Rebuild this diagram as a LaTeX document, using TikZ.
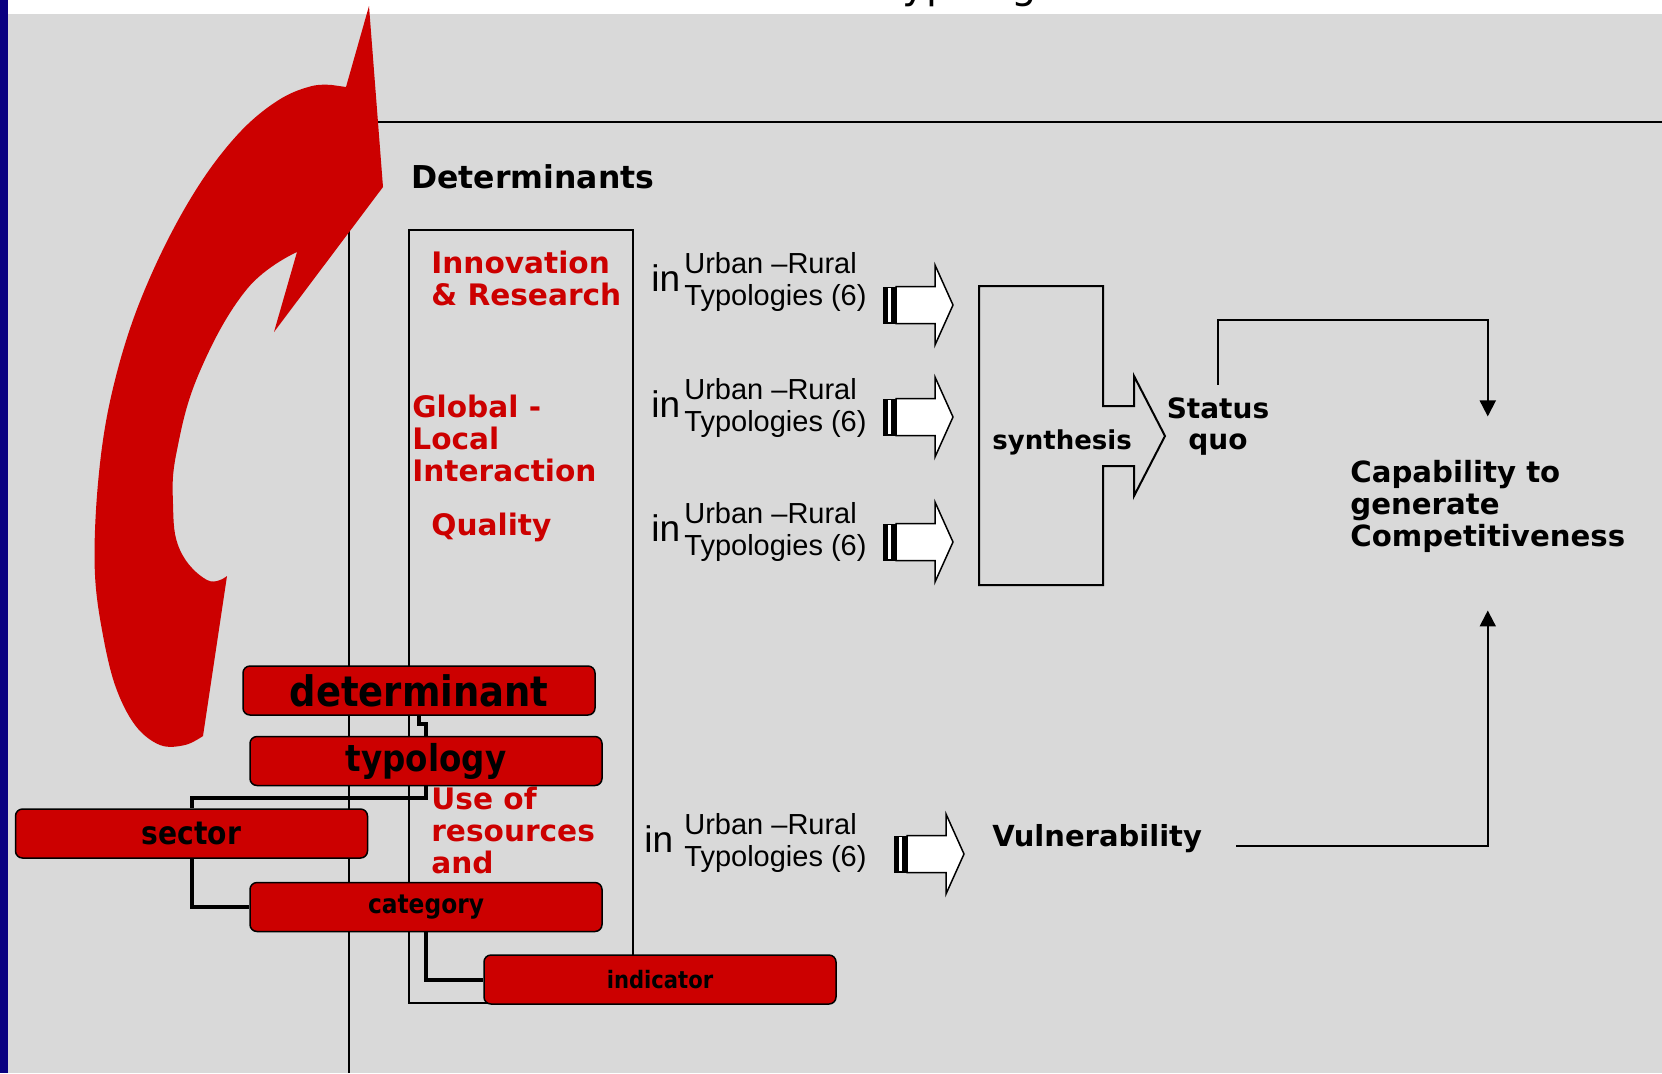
\documentclass[tikz,border=0pt]{standalone}
\usepackage{fontspec}
\setmainfont{DejaVu Sans}
\newfontfamily\arialFont{Liberation Sans}
\newfontfamily\condFont{DejaVu Sans}[FakeStretch=0.88]
\usetikzlibrary{arrows.meta}
\definecolor{slideGray}{HTML}{D9D9D9}
\definecolor{slideRed}{HTML}{CC0000}
\definecolor{slideBlue}{RGB}{10,0,128}

\begin{document}
\begin{tikzpicture}[x=0.5pt, y=-0.5pt,
    labelBox/.style={draw=black, line width=0.75pt, fill=slideRed, rounded corners=3.5pt,
        minimum width=176pt, minimum height=24.5pt, inner sep=0pt},
    redText/.style={text=slideRed, align=left, inner sep=0pt,
        font=\bfseries\fontsize{14.8}{15.9}\selectfont},
    blackText/.style={align=left, inner sep=0pt, font=\bfseries\fontsize{14.6}{16}\selectfont},
    urbanText/.style={align=left, inner sep=0pt, font=\arialFont\fontsize{14.5}{16}\selectfont},
    inText/.style={inner sep=0pt, font=\arialFont\fontsize{18.5}{22}\selectfont},
    thickLink/.style={line width=2pt},
    thinLink/.style={line width=1pt, -{Triangle[width=8pt, length=8pt]}}]

    \useasboundingbox (0,0) rectangle (1662,1073);

    % white arrow params
    \def\shaftHalf{18.5}
    \def\headHalf{40}

    %% background
    \fill[white] (0,0) rectangle (1662,1073);
    \fill[slideGray] (8,14) rectangle (1662,1073);
    \fill[slideBlue] (0,0) rectangle (8,1073);
    \node[anchor=base west, inner sep=0pt, font=\fontsize{20}{24}\selectfont] (slideTitle) at (884,-1.5) {Typologies};

    % frame lines
    \draw[line width=1pt] (1662,122) -- (349,122) -- (349,1073);

    % determinants box
    \draw[line width=1pt] (409,230) rectangle (633,1003);

    % draw curved red arrow
    \fill[slideRed] (369,6) -- (383,187) -- (274,332)
        -- plot[smooth, tension=0.7] coordinates {(297,252) (247,289) (200,371) (177,450) (173,504) (180,550) (207,580) (227,576)}
        -- (203,736)
        -- plot[smooth, tension=0.6] coordinates {(203,736) (185,745) (160,745) (135,725) (115,685) (102,630) (95,575) (96,510) (103,440) (115,380) (133,320) (157,262) (185,208) (215,162) (248,124) (282,98) (312,86) (332,85)}
        -- (346,87) -- cycle;

    % texts
    \node[anchor=base west, inner sep=0pt, font=\bfseries\fontsize{15.75}{18}\selectfont] (detTitle) at (411,188) {Determinants};
    \node[redText, anchor=base west] (innovText) at (431,305) {Innovation\\\& Research};
    \node[redText, anchor=base west] (globalText) at (412,481) {Global -\\Local\\Interaction};
    \node[redText, anchor=base west] (qualityText) at (431,535) {Quality};
    \node[redText, anchor=base west] (resText) at (431,873) {Use of\\resources\\and};

    \foreach \g/\xin/\yb in {1/651/273, 2/651/399, 3/651/523, 4/644/834} {
        \node[inText, anchor=base west] (in\g) at (\xin, \yb+18) {in};
        \node[urbanText, anchor=base west] (urban\g) at (684, \yb+32) {Urban –Rural\\Typologies (6)};
    }

    % draw white striped arrows
    \foreach \ax/\ay in {883/305, 883/417, 883/542, 894/854} {
        \fill[black] (\ax, \ay-\shaftHalf) rectangle (\ax+13, \ay+\shaftHalf);
        \fill[white] (\ax+5, \ay-\shaftHalf+1.5) rectangle (\ax+8, \ay+\shaftHalf-1.5);
        \draw[fill=white, line width=0.75pt] (\ax+13, \ay-\shaftHalf) -- (\ax+52, \ay-\shaftHalf)
            -- (\ax+52, \ay-\headHalf) -- (\ax+70, \ay) -- (\ax+52, \ay+\headHalf)
            -- (\ax+52, \ay+\shaftHalf) -- (\ax+13, \ay+\shaftHalf) -- cycle;
    }

    % draw synthesis arrow
    \draw[line width=1pt] (979,286) -- (1103,286) -- (1103,406) -- (1134,406) -- (1134,376)
        -- (1165,436) -- (1134,496) -- (1134,466) -- (1103,466) -- (1103,585) -- (979,585) -- cycle;
    \node[anchor=base west, inner sep=0pt, font=\bfseries\fontsize{13}{15}\selectfont] (synth) at (992,449) {synthesis};

    \node[blackText, align=center, anchor=base, inner sep=6pt, font=\bfseries\fontsize{14}{15.5}\selectfont] (statusQuo) at (1218,449) {Status\\quo};
    \node[blackText, anchor=base west, inner xsep=0pt, inner ysep=21.5pt] (capab) at (1350,546) {Capability to\\generate\\Competitiveness};
    \node[blackText, anchor=base west, inner sep=0pt, font=\bfseries\fontsize{14.5}{16}\selectfont] (vuln) at (992,846) {Vulnerability};

    \draw[thinLink] (statusQuo.north) -- ++(0,-65) -| (capab.north);
    \draw[thinLink] ([xshift=17pt]vuln.base east) -| ([yshift=-7.5pt]capab.south);

    % red label boxes
    \node[labelBox, font=\condFont\bfseries\fontsize{21}{24}\selectfont] (detBox) at (419,690.5) {determinant};
    \node[labelBox, font=\condFont\bfseries\fontsize{18.5}{22}\selectfont] (typBox) at (426,761) {typology};
    \node[labelBox, font=\condFont\bfseries\fontsize{16}{19}\selectfont] (sectorBox) at (191.5,833.5) {sector};
    \node[labelBox, font=\condFont\bfseries\fontsize{13.25}{16}\selectfont] (categBox) at (426,907) {category};
    \node[labelBox, font=\condFont\bfseries\fontsize{12}{14}\selectfont] (indicBox) at (660,979.5) {indicator};

    \draw[thickLink] (detBox.south) -- ++(0,8) -| (typBox.north);
    \draw[thickLink] (typBox.south) -- ++(0,12) -| (sectorBox.north);
    \draw[thickLink] (sectorBox.south) |- (categBox.west);
    \draw[thickLink] (categBox.south) |- (indicBox.west);

\end{tikzpicture}
\end{document}
